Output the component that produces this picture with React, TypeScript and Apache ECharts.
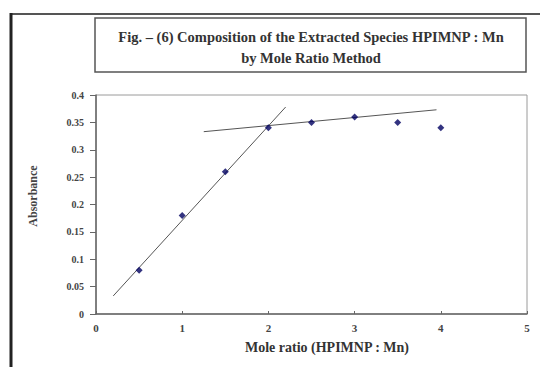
import React, { useEffect, useRef } from "react";
import * as echarts from "echarts";

const moleRatio = [0.5, 1, 1.5, 2, 2.5, 3, 3.5, 4];
const absorbance = [0.08, 0.18, 0.26, 0.34, 0.35, 0.36, 0.35, 0.34];
const steepLineX = [0.2, 2.2];
const steepLineY = [0.033, 0.378];
const flatLineX = [1.25, 3.95];
const flatLineY = [0.333, 0.373];
const titleLines = [
  "Fig. – (6) Composition of the Extracted Species HPIMNP : Mn",
  "by Mole Ratio Method",
];
const xTitle = "Mole ratio (HPIMNP : Mn)";
const yTitle = "Absorbance";

const FONT = "'Liberation Serif', 'Times New Roman', serif";

export default function App() {
  const ref = useRef<HTMLDivElement>(null);
  useEffect(() => {
    document.body.style.margin = "0";
    const chart = echarts.init(ref.current!, null, { renderer: "svg" });
    chart.setOption({
      animation: false,
      backgroundColor: "#ffffff",
      grid: {
        left: 96,
        right: 13,
        top: 95,
        bottom: 53,
        show: true,
        borderColor: "#9a9a9a",
        borderWidth: 1,
        backgroundColor: "transparent",
      },
      xAxis: {
        type: "value",
        min: 0,
        max: 5,
        interval: 1,
        axisLine: { show: true, lineStyle: { color: "#666", width: 1.5 } },
        axisTick: { show: true, inside: true, length: 3, lineStyle: { color: "#666" } },
        axisLabel: { fontFamily: FONT, fontWeight: "bold", fontSize: 11, color: "#444", margin: 8 },
        splitLine: { show: false },
      },
      yAxis: {
        type: "value",
        min: 0,
        max: 0.4,
        interval: 0.05,
        axisLine: { show: true, lineStyle: { color: "#666", width: 1.5 } },
        axisTick: { show: true, inside: false, length: 6, lineStyle: { color: "#666" } },
        axisLabel: {
          fontFamily: FONT,
          fontWeight: "bold",
          fontSize: 10,
          color: "#444",
          margin: 12,
          formatter: (v: number) => String(Math.round(v * 100) / 100),
        },
        splitLine: { show: false },
      },
      series: [
        {
          type: "line",
          data: steepLineX.map((x, i) => [x, steepLineY[i]]),
          symbol: "none",
          lineStyle: { color: "#555", width: 1 },
          z: 2,
        },
        {
          type: "line",
          data: flatLineX.map((x, i) => [x, flatLineY[i]]),
          symbol: "none",
          lineStyle: { color: "#555", width: 1 },
          z: 2,
        },
        {
          type: "scatter",
          data: moleRatio.map((x, i) => [x, absorbance[i]]),
          symbol: "diamond",
          symbolSize: 7,
          itemStyle: { color: "#000060" },
          z: 3,
        },
      ],
      graphic: [
        {
          type: "line",
          shape: { x1: 10, y1: 14, x2: 540, y2: 14 },
          style: { stroke: "#555", lineWidth: 2 },
        },
        {
          type: "line",
          shape: { x1: 11, y1: 13, x2: 11, y2: 367 },
          style: { stroke: "#222", lineWidth: 3 },
        },
        {
          type: "rect",
          shape: { x: 95, y: 18, width: 431, height: 54 },
          style: { fill: "#fff", stroke: "#555", lineWidth: 1.5 },
        },
        {
          type: "text",
          x: 311,
          y: 37,
          style: {
            text: titleLines[0],
            fontFamily: FONT,
            fontWeight: "bold",
            fontSize: 14.5,
            fill: "#333",
            align: "center",
            verticalAlign: "middle",
          },
        },
        {
          type: "text",
          x: 311,
          y: 58,
          style: {
            text: titleLines[1],
            fontFamily: FONT,
            fontWeight: "bold",
            fontSize: 14.5,
            fill: "#333",
            align: "center",
            verticalAlign: "middle",
          },
        },
        {
          type: "text",
          x: 327,
          y: 347,
          style: {
            text: xTitle,
            fontFamily: FONT,
            fontWeight: "bold",
            fontSize: 14,
            fill: "#333",
            align: "center",
            verticalAlign: "middle",
          },
        },
        {
          type: "text",
          x: 33,
          y: 196,
          rotation: Math.PI / 2,
          style: {
            text: yTitle,
            fontFamily: FONT,
            fontWeight: "bold",
            fontSize: 12,
            fill: "#444",
            align: "center",
            verticalAlign: "middle",
          },
        },
      ],
    });
    return () => chart.dispose();
  }, []);
  return <div ref={ref} style={{ width: 540, height: 367 }} />;
}
